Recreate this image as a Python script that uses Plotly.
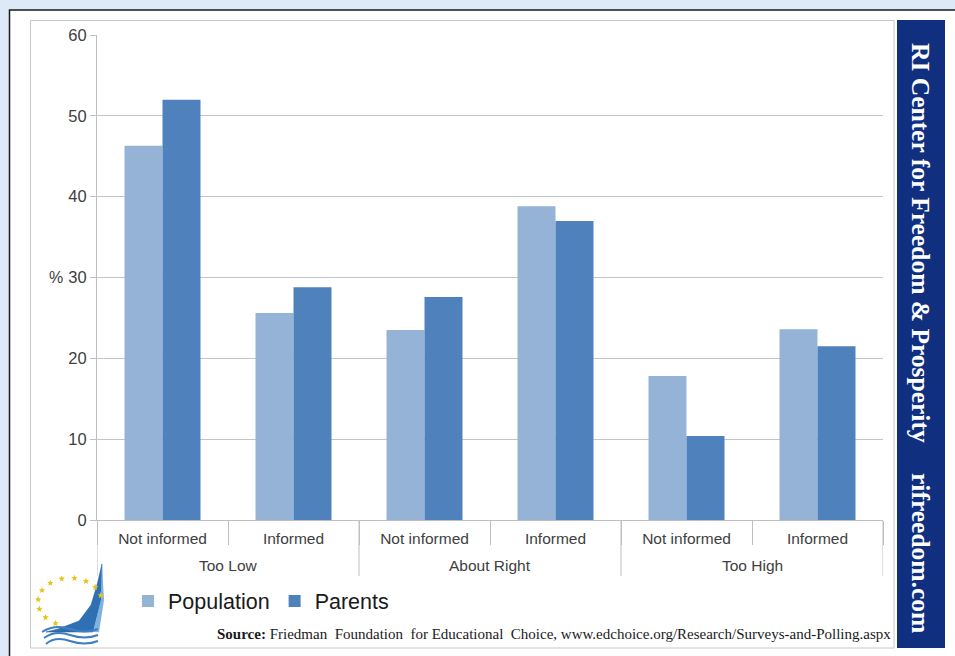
import plotly.graph_objects as go
import math

groups = ["Too Low", "Too Low", "About Right", "About Right", "Too High", "Too High"]
subs = ["Not informed", "Informed", "Not informed", "Informed", "Not informed", "Informed"]
population = [46.3, 25.6, 23.5, 38.8, 17.8, 23.6]
parents = [52.0, 28.8, 27.6, 37.0, 10.4, 21.5]

W, H = 955, 656
L, R, T, B = 97, 883, 35, 520


def px(x):
    return (x - L) / (R - L)


def py(y):
    return (B - y) / (B - T)


pos = list(range(len(subs)))

fig = go.Figure()
fig.add_trace(go.Bar(x=pos, y=population, name="Population",
                     marker=dict(color="#95b3d7", line=dict(width=0))))
fig.add_trace(go.Bar(x=pos, y=parents, name="Parents",
                     marker=dict(color="#4f81bd", line=dict(width=0))))

shapes = []
# white frame with black border
shapes.append(dict(type="rect", xref="paper", yref="paper", x0=px(9.5), x1=px(965), y0=py(10), y1=py(670),
                   fillcolor="white", line=dict(color="#1a1a1a", width=1.5), layer="below"))
# inner gray box
shapes.append(dict(type="rect", xref="paper", yref="paper", x0=px(30.5), x1=px(894), y0=py(20.5), y1=py(648),
                   fillcolor="white", line=dict(color="#c8c8c8", width=1), layer="below"))
# banner
shapes.append(dict(type="rect", xref="paper", yref="paper", x0=px(897), x1=px(945), y0=py(20), y1=py(648),
                   fillcolor="#10307f", line=dict(width=0), layer="below"))

# group dividers and group labels from the category data
group_names = []
group_spans = []
for i, g in enumerate(groups):
    if not group_names or group_names[-1] != g:
        group_names.append(g)
        group_spans.append([i, i])
    else:
        group_spans[-1][1] = i
bounds = sorted({s - 0.5 for s, e in group_spans} | {e + 0.5 for s, e in group_spans})
for b in bounds:
    shapes.append(dict(type="line", xref="x", yref="paper", x0=b, x1=b, y0=0, y1=py(576),
                       line=dict(color="#bfbfbf", width=1), layer="above"))


def path_from(points, close=True):
    s = "M " + " L ".join(f"{px(x):.5f},{py(y):.5f}" for x, y in points)
    return s + (" Z" if close else "")


# logo: sail
sail = [(102, 564), (97, 585), (91, 605), (79, 621), (58, 629), (46, 632), (93, 632), (101, 600)]
shapes.append(dict(type="path", xref="paper", yref="paper", path=path_from(sail),
                   fillcolor="#2f6fb3", line=dict(color="#1f5a9a", width=0.5), layer="above"))
sail2 = [(102, 564), (101, 600), (93, 632), (99, 632), (104, 600)]
shapes.append(dict(type="path", xref="paper", yref="paper", path=path_from(sail2),
                   fillcolor="#7fb2e0", line=dict(width=0), layer="above"))
# stars
cx, cy, rr = 70, 602, 32
for ang in [105, 128, 151, 174, 197, 220, 243, 82, 60, 38, 16]:
    a = math.radians(ang)
    sx, sy = cx + rr * math.cos(a), cy - rr * math.sin(a) * 0.75
    pts = []
    for k in range(10):
        rad = 3.4 if k % 2 == 0 else 1.5
        t = math.radians(-90 + 36 * k)
        pts.append((sx + rad * math.cos(t), sy + rad * math.sin(t)))
    shapes.append(dict(type="path", xref="paper", yref="paper", path=path_from(pts),
                       fillcolor="#e8c21c", line=dict(width=0), layer="above"))
# waves
for i, yy in enumerate([629, 635, 641]):
    shapes.append(dict(type="path", xref="paper", yref="paper",
                       path=f"M {px(42 + i * 2)},{py(yy + 3)} Q {px(55)},{py(yy - 5)} {px(70)},{py(yy)} T {px(98)},{py(yy)}",
                       line=dict(color="#3f7fc0", width=2), layer="above"))

annotations = [
    dict(text="%", x=px(56), y=30, xref="paper", yref="y", showarrow=False,
         font=dict(family="Liberation Sans, Arial", size=16, color="#404040"), xanchor="center", yanchor="middle"),
    dict(text="<b>Source:</b> Friedman  Foundation  for Educational  Choice, www.edchoice.org/Research/Surveys-and-Polling.aspx",
         x=px(554), y=py(634), xref="paper", yref="paper", showarrow=False, xanchor="center", yanchor="middle",
         font=dict(family="Liberation Serif, Times New Roman", size=15, color="#1a1a1a")),
    dict(text="<b>RI Center for Freedom &amp; Prosperity</b>", x=px(921), y=py(243), xref="paper", yref="paper",
         showarrow=False, textangle=90, xanchor="center", yanchor="middle",
         font=dict(family="Liberation Serif, Times New Roman", size=25.5, color="white")),
    dict(text="<b>rifreedom.com</b>", x=px(921), y=py(553), xref="paper", yref="paper",
         showarrow=False, textangle=90, xanchor="center", yanchor="middle",
         font=dict(family="Liberation Serif, Times New Roman", size=25.5, color="white")),
]
for name, (s, e) in zip(group_names, group_spans):
    annotations.append(dict(text=name, x=(s + e) / 2, y=py(565), xref="x", yref="paper", showarrow=False,
                            xanchor="center", yanchor="middle",
                            font=dict(family="Liberation Sans, Arial", size=15.5, color="#404040")))

fig.update_layout(
    width=W, height=H,
    margin=dict(l=L, r=W - R, t=T, b=H - B),
    paper_bgcolor="#dde9f6",
    plot_bgcolor="white",
    barmode="group",
    bargap=0.42,
    bargroupgap=0,
    font=dict(family="Liberation Sans, Arial", size=14, color="#404040"),
    shapes=shapes,
    annotations=annotations,
    showlegend=True,
    legend=dict(orientation="h", x=px(128), y=py(601), xanchor="left", yanchor="middle",
                font=dict(size=21.5, color="#1a1a1a"), bgcolor="rgba(0,0,0,0)",
                traceorder="normal"),
    xaxis=dict(range=[-0.5, len(subs) - 0.5], tickmode="array", tickvals=pos, ticktext=subs,
               showline=True, linecolor="#bfbfbf", linewidth=1, ticks="", ticklabelstandoff=4,
               minor=dict(ticks="outside", ticklen=24, tickcolor="#bfbfbf", tick0=-0.5, dtick=1, showgrid=False),
               tickfont=dict(size=15.5, color="#404040"), showgrid=False, zeroline=False),
    yaxis=dict(range=[0, 60], dtick=10, showgrid=True, gridcolor="#c4c4c4", gridwidth=1,
               showline=True, linecolor="#bfbfbf", ticks="outside", ticklen=6, tickcolor="#bfbfbf",
               tickfont=dict(size=16.5, color="#404040"), zeroline=False),
)

fig.write_html("out.html")
